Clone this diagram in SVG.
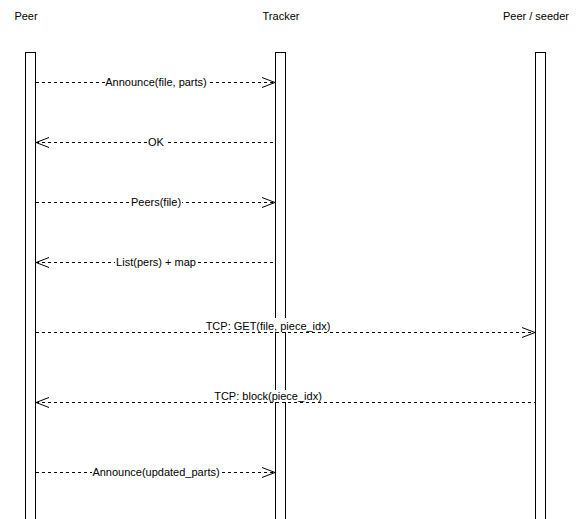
<svg xmlns="http://www.w3.org/2000/svg" width="585" height="519" viewBox="0 0 585 519">
<style>
text{font-family:"Liberation Sans",Arial,sans-serif;font-size:11px;fill:#000;text-anchor:middle}
.act{fill:#fff;stroke:#000;stroke-width:1}
.msg{stroke:#000;stroke-width:1;stroke-dasharray:3 3;fill:none}
.lb{fill:#fff}
.ah{stroke:#000;stroke-width:1;fill:none}
</style>
<rect width="585" height="519" fill="#fff"/>
<g id="peer">
<text x="26" y="20">Peer</text>
<rect class="act" x="25.5" y="52.5" width="10" height="470"/>
</g>
<g id="tracker">
<text x="281" y="20">Tracker</text>
<rect class="act" x="275.5" y="52.5" width="10" height="470"/>
</g>
<g id="seeder">
<text x="536" y="20">Peer / seeder</text>
<rect class="act" x="535.5" y="52.5" width="10" height="470"/>
</g>
<g id="connectors">
<line class="msg" x1="36" y1="82.5" x2="275" y2="82.5"/>
<path class="ah" d="M262,77.5 L275,82.5 L262,87.5"/>
<rect class="lb" x="105" y="76" width="102" height="13"/>
<text x="156" y="86">Announce(file, parts)</text>

<line class="msg" x1="36" y1="142.5" x2="275" y2="142.5"/>
<path class="ah" d="M49,137.5 L36,142.5 L49,147.5"/>
<rect class="lb" x="147" y="136" width="19" height="13"/>
<text x="156" y="146">OK</text>

<line class="msg" x1="36" y1="202.5" x2="275" y2="202.5"/>
<path class="ah" d="M262,197.5 L275,202.5 L262,207.5"/>
<rect class="lb" x="130" y="196" width="52" height="13"/>
<text x="156" y="206">Peers(file)</text>

<line class="msg" x1="36" y1="262.5" x2="275" y2="262.5"/>
<path class="ah" d="M49,257.5 L36,262.5 L49,267.5"/>
<rect class="lb" x="115" y="256" width="82" height="13"/>
<text x="156" y="266">List(pers) + map</text>

<line class="msg" x1="36" y1="332.5" x2="535" y2="332.5"/>
<path class="ah" d="M522,327.5 L535,332.5 L522,337.5"/>
<rect class="lb" x="209" y="318" width="118" height="14"/>
<text x="268" y="330">TCP: GET(file, piece_idx)</text>

<line class="msg" x1="36" y1="402.5" x2="535" y2="402.5"/>
<path class="ah" d="M49,397.5 L36,402.5 L49,407.5"/>
<rect class="lb" x="218" y="390" width="101" height="12"/>
<text x="268" y="400">TCP: block(piece_idx)</text>

<line class="msg" x1="36" y1="472.5" x2="275" y2="472.5"/>
<path class="ah" d="M262,467.5 L275,472.5 L262,477.5"/>
<rect class="lb" x="92" y="466" width="128" height="13"/>
<text x="156" y="476">Announce(updated_parts)</text>
</g>
</svg>
